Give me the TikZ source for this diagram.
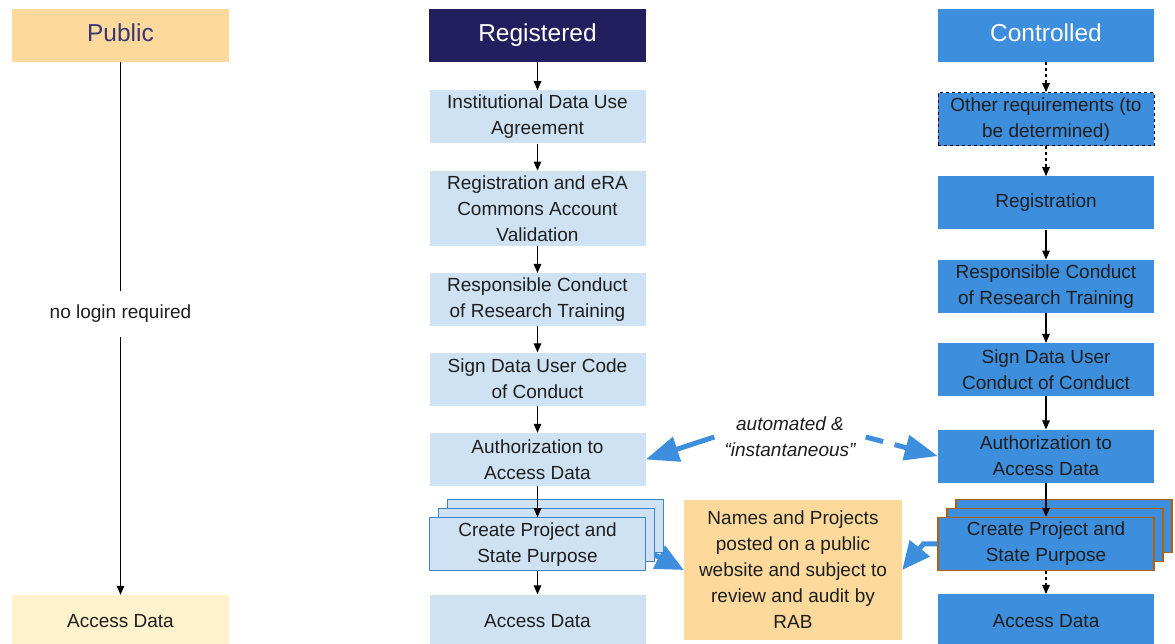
\documentclass[tikz,border=0pt]{standalone}
\usepackage{fontspec}
\setmainfont{Liberation Sans}
\usetikzlibrary{positioning,arrows.meta,shadows,backgrounds}

\definecolor{pubhead}{HTML}{FDD99B}
\definecolor{pubtext}{HTML}{3B3775}
\definecolor{pubfoot}{HTML}{FFF2CC}
\definecolor{reghead}{HTML}{231F5E}
\definecolor{regfill}{HTML}{CFE2F3}
\definecolor{regedge}{HTML}{3D85C6}
\definecolor{ctlfill}{HTML}{3D8EDD}
\definecolor{ctledge}{HTML}{B45F06}
\definecolor{arrowblue}{HTML}{3D8EDD}
\definecolor{inktext}{HTML}{1E1E1E}

\newcommand{\boxfont}{\fontsize{19}{26}\selectfont}
\newcommand{\headfont}{\fontsize{24.5}{28}\selectfont}

\begin{document}
\begin{tikzpicture}[x=1pt,y=1pt,>={Triangle[length=9pt,width=7.5pt]},node distance=27pt,
		titlebox/.style={minimum width=217pt,minimum height=53pt,inner sep=0pt,text height=17.5pt,text depth=5pt,font=\headfont},
		stepbox/.style={minimum width=216pt,minimum height=53pt,inner sep=2pt,align=center,font=\boxfont,text=inktext},
		regbox/.style={stepbox,fill=regfill},
		ctlbox/.style={stepbox,fill=ctlfill},
		flow/.style={->,black,line width=1.2pt},
		bluearrow/.style={-{Triangle[length=33pt,width=25pt]},arrowblue,line width=5pt}]
		\useasboundingbox (0,0) rectangle (1175,644);
		% Public
		\node[titlebox,fill=pubhead,text=pubtext] (pub) at (120.5,608.5) {Public};
		\node[font=\boxfont,text=inktext,inner ysep=14pt] (nologin) at (120.5,330) {no login required};
		\node[stepbox,minimum width=217pt,fill=pubfoot] (paccess) at (120.5,22.5) {Access Data};
		
		% Registered
		\node[titlebox,fill=reghead,text=white] (reg) at (537.5,608.5) {Registered};
		\node[regbox] (rida) [below=28pt of reg] {Institutional Data Use\\Agreement};
		\node[regbox,minimum height=75pt] (rera) [below=of rida] {Registration and eRA\\Commons Account\\Validation};
		\node[regbox] (rrct) [below=of rera] {Responsible Conduct\\of Research Training};
		\node[regbox] (rsign) [below=26pt of rrct] {Sign Data User Code\\of Conduct};
		\node[regbox] (rauth) [below=of rsign] {Authorization to\\Access Data};
		\node[regbox,draw=regedge,line width=1.2pt,
			copy shadow={shadow xshift=18pt,shadow yshift=18pt,fill=regfill,draw=regedge,line width=1.2pt},
			copy shadow={shadow xshift=9pt,shadow yshift=9pt,fill=regfill,draw=regedge,line width=1.2pt}]
			(rcreate) [below=31pt of rauth] {Create Project and\\State Purpose};
		\node[regbox] (raccess) [below=23pt of rcreate] {Access Data};
		
		% Controlled
		\node[titlebox,minimum width=216pt,fill=ctlfill,text=white] (ctl) at (1046,608.5) {Controlled};
		\node[ctlbox,draw=black,dashed,line width=1pt] (cother) [below=30pt of ctl] {Other requirements (to\\be determined)};
		\node[ctlbox] (creg) [below=30pt of cother] {Registration};
		\node[ctlbox] (crct) [below=30pt of creg] {Responsible Conduct\\of Research Training};
		\node[ctlbox] (csign) [below=30pt of crct] {Sign Data User\\Conduct of Conduct};
		\node[ctlbox] (cauth) [below=33pt of csign] {Authorization to\\Access Data};
		\node[ctlbox,draw=ctledge,line width=1.2pt,
			copy shadow={shadow xshift=18pt,shadow yshift=18pt,fill=ctlfill,draw=ctledge,line width=1.2pt},
			copy shadow={shadow xshift=9pt,shadow yshift=9pt,fill=ctlfill,draw=ctledge,line width=1.2pt}]
			(ccreate) [below=34pt of cauth] {Create Project and\\State Purpose};
		\node[ctlbox] (caccess) [below=23pt of ccreate] {Access Data};
		
		% middle
		\node[fill=pubhead,minimum width=218pt,minimum height=140pt,align=center,font=\boxfont,text=inktext] (names) at (793,74)
			{Names and Projects\\posted on a public\\website and subject to\\review and audit by\\RAB};
		\node[font=\boxfont\itshape,align=center,text=inktext,inner xsep=10pt] (auto) at (790,207) {automated \&\\“instantaneous”};
		
		\draw[line width=1.2pt] (pub) -- (nologin);
		\path[flow]
		(nologin) edge (paccess)
		
		(reg) edge (rida)
		(rida) edge (rera)
		(rera) edge (rrct)
		(rrct) edge (rsign)
		(rsign) edge (rauth)
		(rauth) edge (rcreate)
		(rcreate) edge (raccess)
		
		(ctl) edge [dashed] (cother)
		(cother) edge [dashed] (creg)
		(creg) edge (crct)
		(crct) edge (csign)
		(csign) edge (cauth)
		(cauth) edge (ccreate)
		(ccreate) edge [dashed] (caccess);
		
		\draw[bluearrow] (auto.west) -- (rauth.east);
		\draw[bluearrow,dash pattern=on 18pt off 12pt] (auto.east) -- (cauth.west);
		\draw[bluearrow,-{Triangle[length=28pt,width=25pt]}] (ccreate.west) -- ++(-14,0) -- (names.east);
		\begin{scope}[on background layer]
			\draw[bluearrow,-{Triangle[length=28pt,width=25pt]}] ([xshift=-12pt]rcreate.east) -- (names.west);
		\end{scope}
	\end{tikzpicture}
\end{document}
